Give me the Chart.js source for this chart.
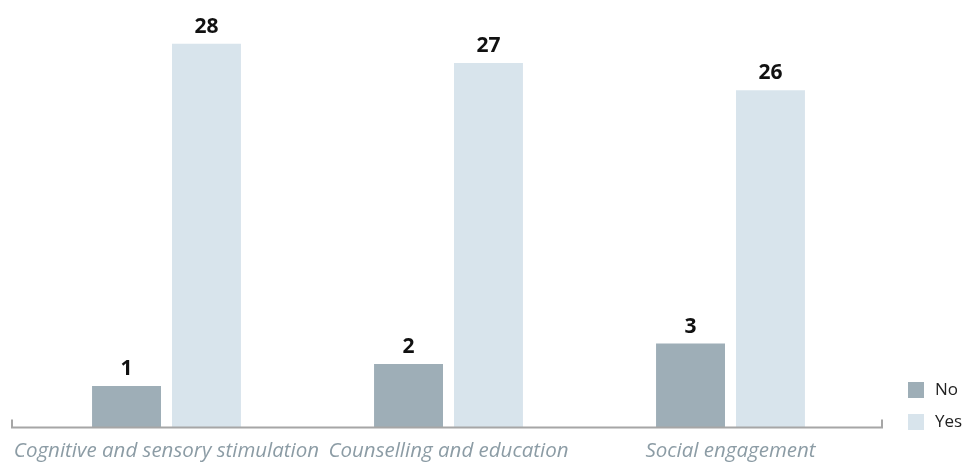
<!DOCTYPE html>
<html>
<head>
<meta charset="utf-8">
<script src="https://cdn.jsdelivr.net/npm/chart.js@4.4.1/dist/chart.umd.min.js"></script>
<style>
  html, body { margin: 0; padding: 0; background: #ffffff; }
  #wrap { position: relative; width: 964px; height: 464px; }
</style>
</head>
<body>
<div id="wrap"><canvas id="c" width="964" height="464"></canvas></div>
<script>
// Categories
const categories = ["Cognitive and sensory stimulation", "Counselling and education", "Social engagement"];
// Series names
const seriesNames = ["No", "Yes"];
// Printed value labels (as shown above the bars)
const labelsNo = [1, 2, 3];
const labelsYes = [28, 27, 26];
// Bar heights (in units of the "28" bar)
const heightsNo = [3.0, 4.6, 6.1];
const heightsYes = [28, 26.6, 24.6];

const colorNo = "#9eaeb7";
const colorYes = "#d8e4ec";

const valueLabelPlugin = {
  id: "valueLabels",
  afterDatasetsDraw(chart) {
    const ctx = chart.ctx;
    const labelSets = [labelsNo, labelsYes];
    ctx.save();
    ctx.font = "bold 21px 'Open Sans', sans-serif";
    ctx.fillStyle = "#111111";
    ctx.textAlign = "center";
    ctx.textBaseline = "alphabetic";
    chart.data.datasets.forEach((ds, di) => {
      const meta = chart.getDatasetMeta(di);
      meta.data.forEach((bar, i) => {
        ctx.fillText(String(labelSets[di][i]), bar.x, bar.y - 11);
      });
    });
    ctx.restore();
  }
};

const axisLinePlugin = {
  id: "axisLine",
  afterDatasetsDraw(chart) {
    const ctx = chart.ctx;
    const a = chart.chartArea;
    const x0 = a.left - 13.5, x1 = a.right + 10.5, y = a.bottom + 0.5;
    ctx.save();
    ctx.strokeStyle = "#a6a6a6";
    ctx.lineWidth = 2;
    ctx.beginPath();
    ctx.moveTo(x0, y - 8);
    ctx.lineTo(x0, y);
    ctx.lineTo(x1, y);
    ctx.lineTo(x1, y - 8);
    ctx.stroke();
    ctx.restore();
  }
};

const legendPlugin = {
  id: "customLegend",
  afterDraw(chart) {
    const ctx = chart.ctx;
    ctx.save();
    ctx.font = "17px 'Open Sans', sans-serif";
    ctx.textBaseline = "middle";
    ctx.textAlign = "left";
    chart.data.datasets.forEach((ds, i) => {
      const top = 382 + i * 32;
      ctx.fillStyle = ds.backgroundColor;
      ctx.fillRect(908, top, 16, 16);
      ctx.fillStyle = "#222222";
      ctx.fillText(ds.label, 935, top + 8);
    });
    ctx.restore();
  }
};

new Chart(document.getElementById("c"), {
  type: "bar",
  data: {
    labels: categories,
    datasets: [
      { label: seriesNames[0], data: heightsNo, backgroundColor: colorNo },
      { label: seriesNames[1], data: heightsYes, backgroundColor: colorYes }
    ]
  },
  options: {
    responsive: false,
    animation: false,
    devicePixelRatio: 1,
    categoryPercentage: 0.567,
    barPercentage: 0.8625,
    layout: { padding: { left: 25.5, right: 92.5, top: 0, bottom: 0 } },
    plugins: { legend: { display: false }, tooltip: { enabled: false } },
    scales: {
      x: {
        grid: { display: false, drawTicks: false },
        border: { display: false },
        ticks: {
          color: "#8c9ca5",
          font: { family: "'Open Sans', sans-serif", size: 20.5, style: "italic" },
          padding: 12,
          maxRotation: 0,
          autoSkip: false
        },
        afterFit(scale) {
          scale.height = 37;
          scale.paddingLeft = 0;
          scale.paddingRight = 0;
        }
      },
      y: {
        display: false,
        min: 0,
        max: 31.2
      }
    }
  },
  plugins: [valueLabelPlugin, axisLinePlugin, legendPlugin]
});
</script>
</body>
</html>
